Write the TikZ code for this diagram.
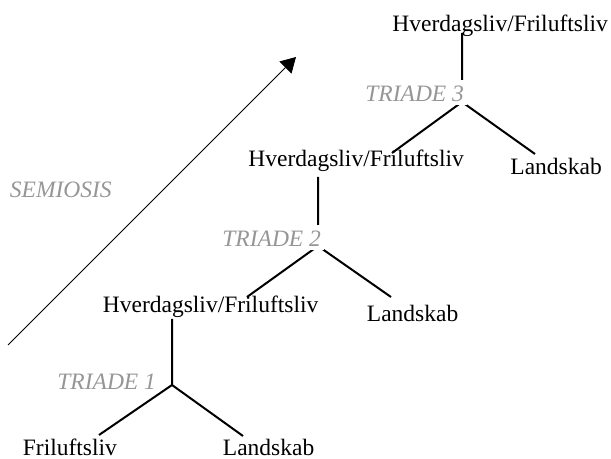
\documentclass[tikz,border=0pt]{standalone}
\usepackage{fontspec}
\setmainfont{Liberation Serif}
\usetikzlibrary{arrows.meta}
\definecolor{lblgray}{RGB}{150,150,150}
\tikzset{
  word/.style={anchor=base west,inner sep=0pt,font=\fontsize{11.75}{14}\selectfont},
  triadlabel/.style={anchor=base west,inner ysep=0pt,inner xsep=1.5pt,fill=white,
    text height=10.8pt,text depth=1.6pt,text=lblgray,
    font=\fontsize{11.75}{14}\selectfont\itshape},
  semlabel/.style={anchor=base west,inner sep=0pt,text=lblgray,
    font=\fontsize{11.75}{14}\selectfont\itshape},
  branch/.style={line width=1pt},
  semarrow/.style={line width=0.45pt,-{Triangle[length=7.5pt,width=8.5pt]}}
}
\begin{document}
\begin{tikzpicture}[x=0.5pt,y=-0.5pt]
\useasboundingbox (0,0) rectangle (611,459);
% text nodes
\node[word] (H3) at (392,31.5) {Hverdagsliv/Friluftsliv};
\node[word] (H2) at (248,167) {Hverdagsliv/Friluftsliv};
\node[word] (L3) at (510,175) {Landskab};
\node[word] (H1) at (102.5,313) {Hverdagsliv/Friluftsliv};
\node[word] (L2) at (366.5,322) {Landskab};
\node[word] (F1) at (22.5,455.5) {Friluftsliv};
\node[word] (L1) at (222.5,455.5) {Landskab};
% junctions and line ends
\coordinate (J3) at (462,102);
\coordinate (J2) at (318,246);
\coordinate (J1) at (172,385);
\coordinate (v3) at (462,33);
\coordinate (v2) at (318,177);
\coordinate (v1) at (172,319);
\coordinate (a3) at (392,153);
\coordinate (b3) at (535,154);
\coordinate (a2) at (247,297);
\coordinate (b2) at (391,297);
\coordinate (a1) at (99,435);
\coordinate (b1) at (243,436);
% branches
\draw[branch] (v3) -- (J3) (J3) -- (a3) (J3) -- (b3);
\draw[branch] (v2) -- (J2) (J2) -- (a2) (J2) -- (b2);
\draw[branch] (v1) -- (J1) (J1) -- (a1) (J1) -- (b1);
% triad labels
\node[triadlabel] (T3) at (362,101.5) {TRIADE 3};
\node[triadlabel] (T2) at (219,246.5) {TRIADE 2};
\node[triadlabel] (T1) at (54,390) {TRIADE 1};
% semiosis
\coordinate (s0) at (8,345);
\coordinate (s1) at (296,57);
\draw[semarrow] (s0) -- (s1);
\node[semlabel] (SEM) at (9.5,198) {SEMIOSIS};
\end{tikzpicture}
\end{document}
